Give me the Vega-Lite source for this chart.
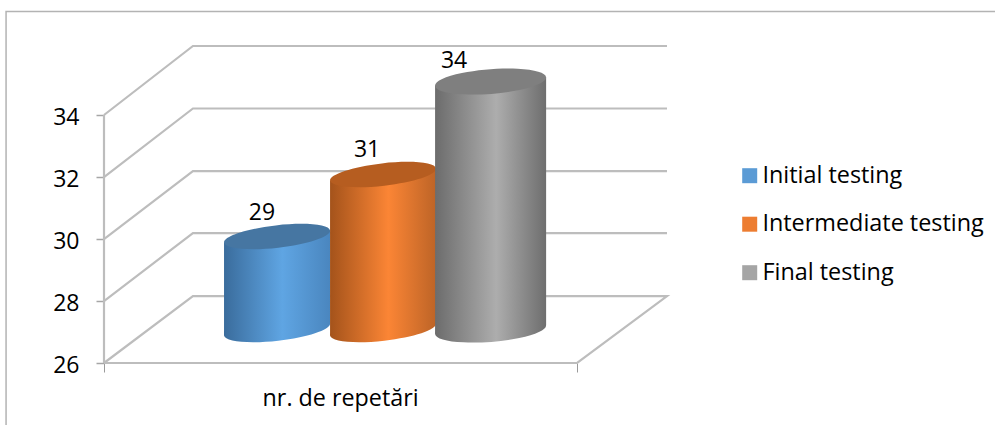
{
"$schema":"https://vega.github.io/schema/vega-lite/v6.json",
"width":563,"height":317,"autosize":{"type":"none"},
"padding":{"left":104,"top":46,"right":328,"bottom":63},
"background":"white",
"config":{"view":{"stroke":null},"font":"Open Sans"},
"datasets":{
"bars":[
{"series":"Initial testing","value":29,"base":26,"mid":0.3658,"lx":0.334,"labelAt":29.76},
{"series":"Intermediate testing","value":31,"base":26,"mid":0.5899,"lx":0.556,"labelAt":31.79},
{"series":"Final testing","value":34,"base":26,"mid":0.8171,"lx":0.74,"labelAt":34.66}],
"bodies":[
{"series":"Initial testing","x":0.2537,"top":28.81,"bottom":25.81},
{"series":"Initial testing","x":0.4778,"top":29.19,"bottom":26.19},
{"series":"Intermediate testing","x":0.4778,"top":30.81,"bottom":25.81},
{"series":"Intermediate testing","x":0.7019,"top":31.19,"bottom":26.19},
{"series":"Final testing","x":0.6998,"top":33.86,"bottom":25.86},
{"series":"Final testing","x":0.9345,"top":34.14,"bottom":26.14}],
"walls":[
{"line":"f","o":0,"x":0,"y":26},{"line":"f","o":1,"x":1,"y":26},{"line":"f","o":2,"x":1.19,"y":28.16},{"line":"f","o":3,"x":0.188,"y":28.16},{"line":"f","o":4,"x":0,"y":26},
{"line":"28","o":0,"x":0,"y":28},{"line":"28","o":1,"x":0.188,"y":30.19},{"line":"28","o":2,"x":1.19,"y":30.19},
{"line":"30","o":0,"x":0,"y":30},{"line":"30","o":1,"x":0.188,"y":32.19},{"line":"30","o":2,"x":1.19,"y":32.19},
{"line":"32","o":0,"x":0,"y":32},{"line":"32","o":1,"x":0.188,"y":34.21},{"line":"32","o":2,"x":1.19,"y":34.21},
{"line":"34","o":0,"x":0,"y":34},{"line":"34","o":1,"x":0.188,"y":36.226},{"line":"34","o":2,"x":1.19,"y":36.226},
{"line":"a","o":0,"x":0,"y":26},{"line":"a","o":1,"x":0,"y":34}],
"frame":[{"o":0,"x":-0.207,"y":37.34},{"o":1,"x":1.9,"y":37.34},{"o":2,"x":-0.207,"y":37.34},{"o":3,"x":-0.207,"y":24.0}]
},
"resolve":{"scale":{"y":"independent"}},
"encoding":{},
"layer":[
{"data":{"name":"frame"},"mark":{"type":"line","stroke":"#b3b3b3","strokeWidth":1.5,"clip":false},
 "encoding":{"x":{"field":"x","type":"quantitative","scale":{"domain":[0,1.19],"nice":false,"zero":false},
   "axis":{"values":[0,1],"labels":false,"title":null,"domain":false,"grid":false,"ticks":true,"tickSize":9,"tickColor":"#9a9a9a","tickWidth":1}},
  "y":{"field":"y","type":"quantitative","scale":{"domain":[26,36.226],"nice":false,"zero":false},"axis":null},"order":{"field":"o"}}},
{"data":{"name":"walls"},"mark":{"type":"line","stroke":"#bdbdbd","strokeWidth":2.2,"clip":false},
 "encoding":{"x":{"field":"x","type":"quantitative"},
  "y":{"field":"y","type":"quantitative","scale":{"domain":[26,36.226],"nice":false,"zero":false},
   "axis":{"values":[26,28,30,32,34],"title":null,"domain":false,"grid":false,"tickSize":8,"tickColor":"#a6a6a6","tickWidth":1.5,"labelFontSize":23,"labelColor":"#000","labelFont":"Open Sans","labelPadding":17,"labelOffset":2,"orient":"left"}},
  "detail":{"field":"line"},"order":{"field":"o"}}},
{"data":{"name":"bars"},"mark":{"type":"point","filled":true,"shape":"square","size":1,"opacity":1},
 "encoding":{"x":{"field":"mid","type":"quantitative"},
  "y":{"field":"value","type":"quantitative","scale":{"domain":[24.92,35.146],"nice":false,"zero":false},"axis":null},
  "color":{"field":"series","type":"nominal","scale":{"domain":["Initial testing","Intermediate testing","Final testing"],"range":["#5b9bd5","#ed7d31","#a5a5a5"]},
   "legend":{"title":null,"orient":"none","legendX":634,"legendY":118,"symbolType":"square","symbolSize":225,"symbolStrokeWidth":0,"symbolOpacity":1,"labelFont":"Open Sans","labelFontSize":23.4,"labelColor":"#000","labelOffset":1,"rowPadding":23.5,"padding":0,"labelLimit":300}}}},

{"data":{"name":"bars"},"transform":[{"filter":"datum.series==='Initial testing'"}],
 "mark":{"type":"point","filled":true,"opacity":1,"size":11380,"shape":"M-0.9936,0.1132A1,0.21,-6.5,1,1,0.9936,-0.1132A1,0.21,-6.5,1,1,-0.9936,0.1132Z","fill":{"x1":0,"y1":0,"x2":1,"y2":0,"gradient":"linear","stops":[{"offset":0,"color":"#3a6c9c"},{"offset":0.55,"color":"#5fa5e3"},{"offset":1,"color":"#4a86bf"}]}},
 "encoding":{"x":{"field":"mid","type":"quantitative"},"y":{"field":"base","type":"quantitative","scale":{"domain":[24.92,35.146],"nice":false,"zero":false},"axis":null}}},
{"data":{"name":"bodies"},"transform":[{"filter":"datum.series==='Initial testing'"}],
 "mark":{"type":"area","opacity":1,"fill":{"x1":0,"y1":0,"x2":1,"y2":0,"gradient":"linear","stops":[{"offset":0,"color":"#3a6c9c"},{"offset":0.55,"color":"#5fa5e3"},{"offset":1,"color":"#4a86bf"}]}},
 "encoding":{"x":{"field":"x","type":"quantitative"},"y":{"field":"top","type":"quantitative","scale":{"domain":[24.92,35.146],"nice":false,"zero":false},"axis":null},"y2":{"field":"bottom"}}},
{"data":{"name":"bars"},"transform":[{"filter":"datum.series==='Initial testing'"}],
 "mark":{"type":"point","filled":true,"opacity":1,"size":11380,"shape":"M-0.9936,0.1132A1,0.21,-6.5,1,1,0.9936,-0.1132A1,0.21,-6.5,1,1,-0.9936,0.1132Z","fill":"#4676a2"},
 "encoding":{"x":{"field":"mid","type":"quantitative"},"y":{"field":"value","type":"quantitative","scale":{"domain":[24.92,35.146],"nice":false,"zero":false},"axis":null}}},

{"data":{"name":"bars"},"transform":[{"filter":"datum.series==='Intermediate testing'"}],
 "mark":{"type":"point","filled":true,"opacity":1,"size":11380,"shape":"M-0.9936,0.1132A1,0.21,-6.5,1,1,0.9936,-0.1132A1,0.21,-6.5,1,1,-0.9936,0.1132Z","fill":{"x1":0,"y1":0,"x2":1,"y2":0,"gradient":"linear","stops":[{"offset":0,"color":"#a4531b"},{"offset":0.55,"color":"#fb8535"},{"offset":1,"color":"#bd6427"}]}},
 "encoding":{"x":{"field":"mid","type":"quantitative"},"y":{"field":"base","type":"quantitative","scale":{"domain":[24.92,35.146],"nice":false,"zero":false},"axis":null}}},
{"data":{"name":"bodies"},"transform":[{"filter":"datum.series==='Intermediate testing'"}],
 "mark":{"type":"area","opacity":1,"fill":{"x1":0,"y1":0,"x2":1,"y2":0,"gradient":"linear","stops":[{"offset":0,"color":"#a4531b"},{"offset":0.55,"color":"#fb8535"},{"offset":1,"color":"#bd6427"}]}},
 "encoding":{"x":{"field":"x","type":"quantitative"},"y":{"field":"top","type":"quantitative","scale":{"domain":[24.92,35.146],"nice":false,"zero":false},"axis":null},"y2":{"field":"bottom"}}},
{"data":{"name":"bars"},"transform":[{"filter":"datum.series==='Intermediate testing'"}],
 "mark":{"type":"point","filled":true,"opacity":1,"size":11380,"shape":"M-0.9936,0.1132A1,0.21,-6.5,1,1,0.9936,-0.1132A1,0.21,-6.5,1,1,-0.9936,0.1132Z","fill":"#b65d20"},
 "encoding":{"x":{"field":"mid","type":"quantitative"},"y":{"field":"value","type":"quantitative","scale":{"domain":[24.92,35.146],"nice":false,"zero":false},"axis":null}}},

{"data":{"name":"bars"},"transform":[{"filter":"datum.series==='Final testing'"}],
 "mark":{"type":"point","filled":true,"opacity":1,"size":12400,"shape":"M-0.9969,0.0785A1,0.22,-4.5,1,1,0.9969,-0.0785A1,0.22,-4.5,1,1,-0.9969,0.0785Z","fill":{"x1":0,"y1":0,"x2":1,"y2":0,"gradient":"linear","stops":[{"offset":0,"color":"#6c6c6c"},{"offset":0.55,"color":"#adadad"},{"offset":1,"color":"#6e6e6e"}]}},
 "encoding":{"x":{"field":"mid","type":"quantitative"},"y":{"field":"base","type":"quantitative","scale":{"domain":[24.92,35.146],"nice":false,"zero":false},"axis":null}}},
{"data":{"name":"bodies"},"transform":[{"filter":"datum.series==='Final testing'"}],
 "mark":{"type":"area","opacity":1,"fill":{"x1":0,"y1":0,"x2":1,"y2":0,"gradient":"linear","stops":[{"offset":0,"color":"#6c6c6c"},{"offset":0.55,"color":"#adadad"},{"offset":1,"color":"#6e6e6e"}]}},
 "encoding":{"x":{"field":"x","type":"quantitative"},"y":{"field":"top","type":"quantitative","scale":{"domain":[24.92,35.146],"nice":false,"zero":false},"axis":null},"y2":{"field":"bottom"}}},
{"data":{"name":"bars"},"transform":[{"filter":"datum.series==='Final testing'"}],
 "mark":{"type":"point","filled":true,"opacity":1,"size":12400,"shape":"M-0.9969,0.0785A1,0.22,-4.5,1,1,0.9969,-0.0785A1,0.22,-4.5,1,1,-0.9969,0.0785Z","fill":"#7f7f7f"},
 "encoding":{"x":{"field":"mid","type":"quantitative"},"y":{"field":"value","type":"quantitative","scale":{"domain":[24.92,35.146],"nice":false,"zero":false},"axis":null}}},

{"data":{"name":"bars"},"mark":{"type":"text","font":"Open Sans","fontSize":23,"color":"#000","baseline":"middle","align":"center"},
 "encoding":{"x":{"field":"lx","type":"quantitative"},"y":{"field":"labelAt","type":"quantitative","scale":{"domain":[24.92,35.146],"nice":false,"zero":false},"axis":null},"text":{"field":"value"}}},
{"data":{"values":[{"t":"nr. de repetări","x":0.5,"y":24.84}]},"mark":{"type":"text","font":"Open Sans","fontSize":23.3,"color":"#000","baseline":"middle","align":"center","clip":false},
 "encoding":{"x":{"field":"x","type":"quantitative"},"y":{"field":"y","type":"quantitative","scale":{"domain":[26,36.226],"nice":false,"zero":false},"axis":null},"text":{"field":"t"}}}
]
}
